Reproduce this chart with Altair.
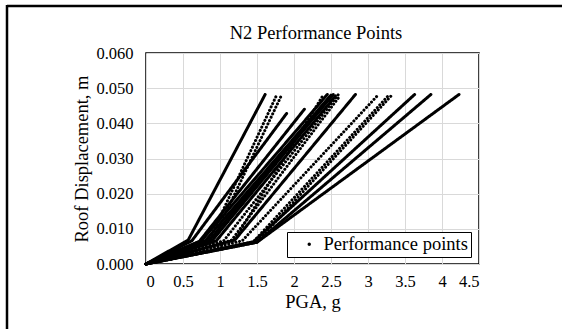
import altair as alt
import pandas as pd

# ---- data (PGA in g, roof displacement in m) ----
series_id = list(range(1, 21))
knee_pga  = [0.57, 0.85, 0.90, 0.62, 0.72, 0.75, 0.85, 0.95, 1.05, 1.15, 1.20,
             1.20, 1.30, 1.45, 1.50, 1.45, 1.50, 1.50, 0.80, 0.90]
knee_disp = [0.0068, 0.0066, 0.0066, 0.0066, 0.0064, 0.0066, 0.0066, 0.0066, 0.0066, 0.0066, 0.0070,
             0.0068, 0.0066, 0.0063, 0.0063, 0.0063, 0.0062, 0.0062, 0.0066, 0.0068]
end_pga   = [1.61, 1.76, 1.82, 1.90, 2.14, 2.45, 2.50, 2.56, 2.60, 2.62, 2.40,
             2.83, 3.12, 3.28, 3.33, 3.63, 3.85, 4.23, 2.48, 2.53]
end_disp  = [0.0482, 0.0478, 0.0475, 0.0428, 0.0440, 0.0482, 0.0480, 0.0478, 0.0482, 0.0478, 0.0482,
             0.0482, 0.0477, 0.0480, 0.0482, 0.0482, 0.0482, 0.0482, 0.0475, 0.0482]
line_style = ["solid", "dotted", "dotted", "solid", "solid", "solid", "solid", "solid", "dotted", "dotted", "dotted",
              "solid", "dotted", "dotted", "dotted", "solid", "solid", "solid", "solid", "solid"]

x_ticks = [0, 0.5, 1, 1.5, 2, 2.5, 3, 3.5, 4, 4.5]
y_ticks = [0, 0.01, 0.02, 0.03, 0.04, 0.05, 0.06]
chart_title = "N2 Performance Points"

rows = []
for i, s in enumerate(series_id):
    pts = [(0.0, 0.0), (knee_pga[i], knee_disp[i]), (end_pga[i], end_disp[i])]
    for k, (px, py) in enumerate(pts):
        rows.append({"series": s, "step": k, "pga": px, "disp": py,
                     "style": line_style[i], "legend": "Performance points"})
df = pd.DataFrame(rows)

FONT = "Liberation Serif"

lines = alt.Chart(df).mark_line(strokeWidth=3, strokeCap="round", strokeJoin="round").encode(
    x=alt.X("pga:Q", scale=alt.Scale(domain=[0, 4.5], nice=False),
            axis=alt.Axis(values=x_ticks, labelExpr="'' + datum.value", title="PGA, g")),
    y=alt.Y("disp:Q", scale=alt.Scale(domain=[0, 0.06], nice=False),
            axis=alt.Axis(values=y_ticks, format=".3f", title="Roof Displacement, m")),
    detail="series:N",
    order="step:Q",
    strokeDash=alt.StrokeDash("style:N", scale=alt.Scale(domain=["solid", "dotted"],
                                                          range=[[1, 0], [0.1, 3.6]]), legend=None),
    color=alt.Color("legend:N", scale=alt.Scale(range=["black"]),
                    legend=alt.Legend(title=None, orient="none", legendX=141, legendY=179,
                                      symbolType="circle", symbolFillColor="black",
                                      symbolStrokeWidth=0, symbolSize=12, symbolOffset=10,
                                      labelOffset=5, padding=3, strokeColor="black",
                                      fillColor="white", labelFont=FONT, labelFontSize=18.5,
                                      labelColor="black")),
)

one = pd.DataFrame({"t": [chart_title]})
frame_top = alt.Chart(one).mark_rule(color="black", strokeWidth=2.5).encode(
    x=alt.value(-139), x2=alt.value(430), y=alt.value(-47))
frame_left = alt.Chart(one).mark_rule(color="black", strokeWidth=2.5).encode(
    x=alt.value(-139), y=alt.value(-48), y2=alt.value(290))
title_text = alt.Chart(one).mark_text(font=FONT, fontSize=18.5, color="black", align="center",
                                      baseline="alphabetic").encode(
    text="t:N", x=alt.value(170), y=alt.value(-14))

chart = alt.layer(lines, frame_top, frame_left, title_text).properties(
    width=333, height=211,
    autosize=alt.AutoSizeParams(type="none"),
    padding={"left": 146, "top": 53, "right": 83, "bottom": 65},
).configure(font=FONT).configure_view(stroke="black", strokeWidth=1.5).configure_axis(
    grid=True, gridColor="#d9d9d9", gridWidth=1, domain=False, ticks=False,
    labelFont=FONT, labelFontSize=16.5, labelColor="black",
    titleFont=FONT, titleFontSize=18.5, titleFontWeight="normal", titleColor="black",
).configure_legend(labelFont=FONT).configure_axisX(labelPadding=9, titlePadding=3).configure_axisY(
    labelPadding=13, titlePadding=4)

chart.save("out.html", embed_options={"renderer": "svg", "actions": False})
